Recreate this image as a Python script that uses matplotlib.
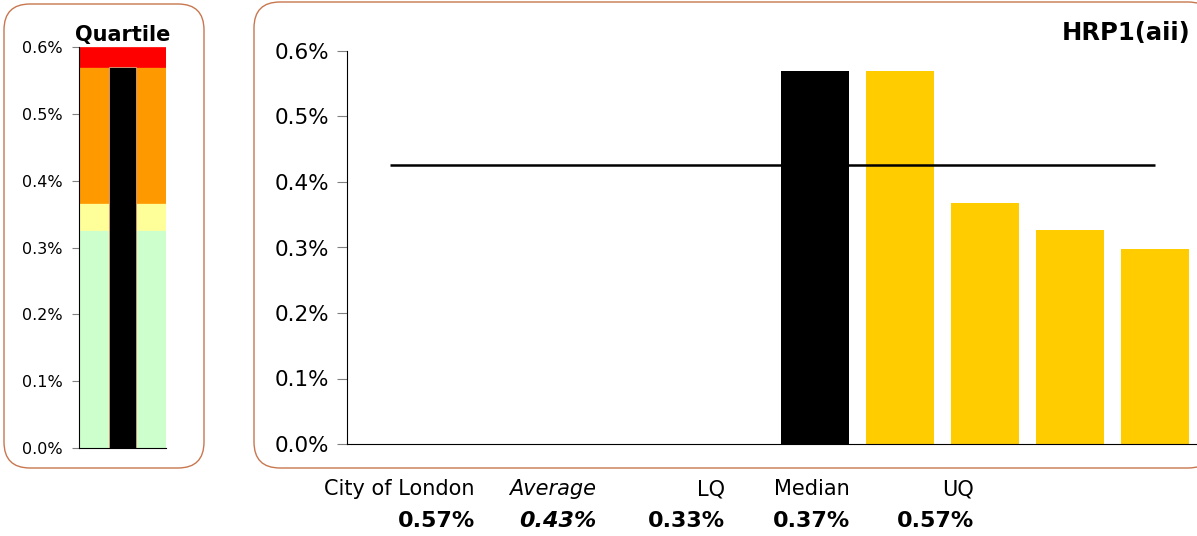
import matplotlib
matplotlib.use("Agg")
import matplotlib.pyplot as plt
from matplotlib.patches import FancyBboxPatch
from matplotlib.transforms import IdentityTransform
from matplotlib.ticker import FuncFormatter

# ---- data ----
title = "HRP1(aii)"
bar_values = [0.57, 0.569, 0.368, 0.326, 0.298]          # % values
bar_colors = ["#000000", "#FFCC00", "#FFCC00", "#FFCC00", "#FFCC00"]
n_empty_slots = 5
average = 0.426
lq, median, uq, qmax = 0.326, 0.367, 0.57, 0.60
quartile_colors = ["#CCFFCC", "#FFFF99", "#FF9900", "#FF0000"]
own_value = 0.57
summary_labels = ["City of London", "Average", "LQ", "Median", "UQ"]
summary_values = ["0.57%", "0.43%", "0.33%", "0.37%", "0.57%"]
summary_italic = [False, True, False, False, False]
yticks = [0.0, 0.1, 0.2, 0.3, 0.4, 0.5, 0.6]

W, H = 1197, 536
fig = plt.figure(figsize=(W / 100, H / 100), dpi=100)
plt.rcParams['font.family'] = ['DejaVu Sans']

def px_axes(x0, y_top, x1, y_bot):
    return fig.add_axes([x0 / W, (H - y_bot) / H, (x1 - x0) / W, (y_bot - y_top) / H])

border = "#C8774E"
fig.add_artist(FancyBboxPatch((4, H - 468), 200, 464, boxstyle="round,pad=0,rounding_size=26",
                              transform=IdentityTransform(), fc="white", ec=border, lw=1.0, zorder=-5))
fig.add_artist(FancyBboxPatch((254, H - 468), 960, 466, boxstyle="round,pad=0,rounding_size=26",
                              transform=IdentityTransform(), fc="white", ec=border, lw=1.0, zorder=-5))

fmt = FuncFormatter(lambda v, p: f"{v:.1f}%")

# ---- left quartile panel ----
axl = px_axes(79, 47, 166, 448)
axl.patch.set_visible(False)
bounds = [0.0, lq, median, uq, qmax]
for i, c in enumerate(quartile_colors):
    axl.bar(0, bounds[i + 1] - bounds[i], bottom=bounds[i], width=1.0, color=c,
            edgecolor=c, linewidth=0.5, align="center")
axl.bar(0, own_value, width=0.32, color="black", edgecolor="#E0A080", linewidth=0.6)
axl.set_xlim(-0.5, 0.5)
axl.set_ylim(0, 0.6)
axl.set_xticks([])
axl.set_yticks(yticks)
axl.yaxis.set_major_formatter(fmt)
axl.tick_params(axis="y", length=5, color="#808080", pad=7, labelsize=11.5)
for s in ["top", "right"]:
    axl.spines[s].set_visible(False)
axl.text(0, 0.6 + 0.003, "Quartile", ha="center", va="bottom", fontsize=15, fontweight="bold",
         transform=axl.transData)

# ---- right main panel ----
axr = px_axes(347, 51, 1197, 444)
axr.patch.set_visible(False)
n_slots = n_empty_slots + len(bar_values)
xs = list(range(n_empty_slots, n_slots))
axr.bar(xs, bar_values, width=0.8, color=bar_colors)
axr.hlines(average, 0, n_slots - 1, color="black", lw=1.8, zorder=3)
axr.set_xlim(-0.5, n_slots - 0.5)
axr.set_ylim(0, 0.6)
axr.set_xticks([])
axr.set_yticks(yticks)
axr.yaxis.set_major_formatter(fmt)
axr.tick_params(axis="y", length=7, color="#808080", pad=6, labelsize=15.5)
for s in ["top", "right"]:
    axr.spines[s].set_visible(False)
fig.text(1190 / W, (H - 33) / H, title, ha="right", va="center", fontsize=17.5, fontweight="bold")

# ---- summary text ----
right_edges = [475, 596, 725, 850, 974]
for x, lab, val, it in zip(right_edges, summary_labels, summary_values, summary_italic):
    st = "italic" if it else "normal"
    fig.text(x / W, (H - 489) / H, lab, ha="right", va="center", fontsize=15, style=st)
    fig.text(x / W, (H - 521) / H, val, ha="right", va="center", fontsize=16,
             fontweight="bold", style=st)

fig.savefig("out.png", dpi=100)
